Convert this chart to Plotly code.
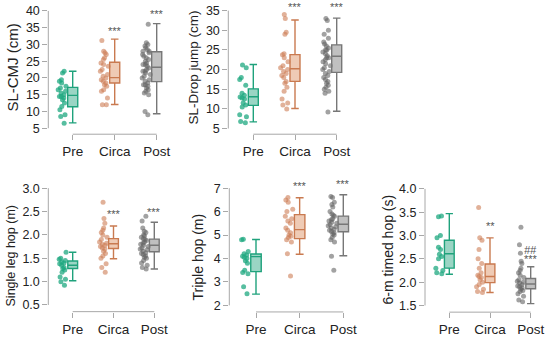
import plotly.graph_objects as go

W, H = 550, 339

categories = ["Pre", "Circa", "Post"]

# ---------- SL-CMJ (cm) ----------
cmj_pre = [22.0, 21.5, 19.5, 19.0, 18.5, 17.5, 17.0, 16.5, 16.0, 15.5, 15.0, 14.5,
           14.5, 14.0, 13.5, 12.5, 11.5, 10.5, 9.0, 8.5, 6.5]
cmj_circa = [31.2, 28.0, 27.5, 27.0, 26.0, 25.5, 24.5, 24.0, 23.5, 22.5, 22.0, 21.0,
             20.5, 20.0, 19.5, 19.0, 18.5, 18.0, 17.5, 16.5, 16.0, 14.0, 12.0, 12.0]
cmj_post = [36.0, 30.5, 30.0, 29.5, 29.0, 28.5, 28.0, 28.0, 27.5, 27.0, 26.5, 26.0,
            25.5, 25.0, 24.5, 24.0, 24.0, 23.5, 23.0, 22.5, 22.0, 22.0, 21.5, 21.0,
            20.5, 20.0, 19.5, 19.0, 18.5, 18.0, 18.0, 17.5, 17.0, 16.5, 16.0, 15.5,
            15.0, 10.0, 9.0]
cmj_q1 = [11.4, 18.5, 18.9]
cmj_med = [14.8, 20.1, 23.2]
cmj_q3 = [17.2, 24.7, 27.8]
cmj_lo = [6.6, 12.1, 9.3]
cmj_hi = [22.0, 31.6, 36.2]
cmj_sig = ["", "***", "***"]
cmj_sig_y = [None, 33.9, 39.1]

# ---------- SL-Drop jump (cm) ----------
drop_pre = [21.2, 20.5, 18.0, 17.5, 16.0, 14.0, 13.5, 13.0, 12.8, 12.5, 11.5, 11.0,
            10.5, 8.5, 8.0, 6.8, 6.5]
drop_circa = [34.0, 33.0, 29.5, 29.0, 24.0, 23.8, 23.0, 22.0, 21.0, 20.5, 20.0, 19.5,
              19.0, 18.5, 18.0, 17.0, 16.5, 15.5, 14.5, 12.5, 11.5, 11.0, 10.0]
drop_post = [33.0, 32.5, 30.0, 29.0, 28.0, 27.0, 26.5, 26.0, 25.5, 25.0, 25.0, 24.5,
             24.0, 23.5, 23.0, 23.0, 22.5, 22.0, 21.5, 21.0, 20.5, 20.0, 19.5, 19.0,
             18.5, 18.0, 17.5, 17.0, 16.5, 16.0, 15.5, 15.0, 14.5, 14.0, 9.2]
drop_q1 = [10.9, 17.0, 19.3]
drop_med = [13.1, 20.2, 23.4]
drop_q3 = [15.1, 23.8, 26.3]
drop_lo = [6.7, 10.1, 9.4]
drop_hi = [21.3, 32.6, 33.1]
drop_sig = ["", "***", "***"]
drop_sig_y = [None, 35.9, 35.9]

# ---------- Single leg hop (m) ----------
slh_pre = [1.63, 1.50, 1.48, 1.45, 1.42, 1.40, 1.38, 1.35, 1.30, 1.28, 1.25, 1.20,
           1.10, 1.05, 1.00, 0.92]
slh_circa = [2.70, 2.35, 2.25, 2.15, 2.10, 2.05, 2.00, 1.95, 1.90, 1.85, 1.82, 1.80,
             1.78, 1.75, 1.72, 1.70, 1.65, 1.60, 1.55, 1.50, 1.38, 1.30, 1.20]
slh_post = [2.40, 2.30, 2.15, 2.08, 2.05, 2.00, 1.98, 1.95, 1.92, 1.90, 1.88, 1.85,
            1.82, 1.80, 1.78, 1.75, 1.72, 1.70, 1.68, 1.65, 1.62, 1.60, 1.58, 1.55,
            1.52, 1.50, 1.45, 1.40, 1.35, 1.30, 1.27]
slh_q1 = [1.28, 1.71, 1.64]
slh_med = [1.35, 1.81, 1.78]
slh_q3 = [1.44, 1.92, 1.91]
slh_lo = [1.02, 1.49, 1.27]
slh_hi = [1.63, 2.19, 2.27]
slh_sig = ["", "***", "***"]
slh_sig_y = [None, 2.45, 2.50]

# ---------- Triple hop (m) ----------
th_pre = [4.82, 4.80, 4.30, 4.20, 4.15, 4.10, 4.05, 4.00, 3.90, 3.80, 3.50, 3.40,
          3.35, 2.80, 2.50]
th_circa = [6.60, 6.50, 6.40, 6.10, 6.00, 5.80, 5.70, 5.60, 5.50, 5.30, 5.20, 5.10,
            5.00, 4.95, 4.90, 4.80, 4.70, 4.20, 3.25]
th_post = [6.65, 6.60, 6.40, 6.30, 6.20, 6.00, 5.90, 5.85, 5.80, 5.70, 5.65, 5.60,
           5.55, 5.50, 5.45, 5.40, 5.35, 5.30, 5.25, 5.20, 5.15, 5.10, 5.05, 5.00,
           4.90, 4.80, 4.70, 4.10, 3.50]
th_q1 = [3.44, 4.85, 5.14]
th_med = [4.08, 5.23, 5.46]
th_q3 = [4.19, 5.87, 5.81]
th_lo = [2.48, 4.18, 4.12]
th_hi = [4.81, 6.59, 6.72]
th_sig = ["", "***", "***"]
th_sig_y = [None, 7.11, 7.18]

# ---------- 6-m timed hop (s) ----------
tim_pre = [3.42, 3.40, 3.00, 2.95, 2.75, 2.70, 2.60, 2.55, 2.50, 2.30, 2.25, 2.20, 2.18]
tim_circa = [3.60, 2.95, 2.90, 2.70, 2.50, 2.40, 2.30, 2.20, 2.15, 2.12, 2.10, 2.05,
             2.00, 1.95, 1.90, 1.85, 1.80, 1.78]
tim_post = [3.18, 2.80, 2.62, 2.45, 2.40, 2.30, 2.25, 2.20, 2.15, 2.10, 2.05, 2.02,
            2.00, 1.98, 1.95, 1.92, 1.90, 1.88, 1.85, 1.82, 1.80, 1.75, 1.70, 1.62, 1.58]
tim_q1 = [2.30, 1.99, 1.86]
tim_med = [2.61, 2.12, 1.96]
tim_q3 = [2.90, 2.39, 2.08]
tim_lo = [2.17, 1.78, 1.54]
tim_hi = [3.47, 2.95, 2.33]
tim_sig = ["", "**", "***"]
tim_sig_y = [None, 3.20, 2.49]
tim_sig2 = ["", "", "<i>##</i>"]
tim_sig2_y = [None, None, 2.70]

line_cols = ["#1fa27c", "#c97a50", "#777777"]
fill_cols = ["rgba(31,162,124,0.45)", "rgba(225,160,120,0.55)", "rgba(140,140,140,0.55)"]
pt_cols = ["rgba(31,168,128,0.75)", "rgba(205,125,85,0.6)", "rgba(100,100,100,0.6)"]

panels = [
    dict(title="SL-CMJ (cm)", tsize=15, pts=[cmj_pre, cmj_circa, cmj_post], q1=cmj_q1,
         med=cmj_med, q3=cmj_q3, lo=cmj_lo, hi=cmj_hi, sig=cmj_sig, sig_y=cmj_sig_y,
         yr=[5, 40], dt=5, fmt="d", ytop=11, ybot=129, xax=48.3,
         cx=[72.7, 115, 156.7], xline=135, tx=13, ty=68),
    dict(title="SL-Drop jump (cm)", tsize=13.5, pts=[drop_pre, drop_circa, drop_post],
         q1=drop_q1, med=drop_med, q3=drop_q3, lo=drop_lo, hi=drop_hi, sig=drop_sig,
         sig_y=drop_sig_y, yr=[5, 35], dt=5, fmt="d", ytop=10.7, ybot=129.3, xax=228.3,
         cx=[253.3, 295, 336.7], xline=135, tx=194, ty=68),
    dict(title="Single leg hop (m)", tsize=12.5, pts=[slh_pre, slh_circa, slh_post],
         q1=slh_q1, med=slh_med, q3=slh_q3, lo=slh_lo, hi=slh_hi, sig=slh_sig,
         sig_y=slh_sig_y, yr=[0.5, 3.0], dt=0.5, fmt=".1f", ytop=189.3, ybot=306.8,
         xax=48.3, cx=[72.7, 113.3, 154.3], xline=313.5, tx=11, ty=258),
    dict(title="Triple hop (m)", tsize=14, pts=[th_pre, th_circa, th_post], q1=th_q1,
         med=th_med, q3=th_q3, lo=th_lo, hi=th_hi, sig=th_sig, sig_y=th_sig_y,
         yr=[2, 7], dt=1, fmt="d", ytop=189.3, ybot=307.2, xax=229.3,
         cx=[256, 300, 343.3], xline=313.8, tx=198, ty=259),
    dict(title="6-m timed hop (s)", tsize=14, pts=[tim_pre, tim_circa, tim_post],
         q1=tim_q1, med=tim_med, q3=tim_q3, lo=tim_lo, hi=tim_hi, sig=tim_sig,
         sig_y=tim_sig_y, yr=[1.5, 4.0], dt=0.5, fmt=".1f", ytop=190, ybot=307.3,
         xax=425, cx=[449.3, 490, 530.7], xline=314, tx=388, ty=251),
]

fig = go.Figure()
layout = dict(width=W, height=H, margin=dict(l=0, r=0, t=0, b=0),
              paper_bgcolor="white", plot_bgcolor="white", showlegend=False,
              boxmode="overlay", font=dict(family="Liberation Sans, Arial", color="#222"))
shapes = []
annotations = []
AX = "#a8a8a8"
BOXW = 0.24
EXT_TOP = 10  # px of headroom above the top tick for the significance marks

for k, p in enumerate(panels):
    n = k + 1
    suf = "" if n == 1 else str(n)
    xa, ya = "x" + suf, "y" + suf
    s = (p["cx"][2] - p["cx"][0]) / 2.0
    r0 = -(p["cx"][0] - p["xax"]) / s
    right_px = p["cx"][2] + 16
    r1 = 2 + (right_px - p["cx"][2]) / s
    kk = (p["ybot"] - p["ytop"]) / (p["yr"][1] - p["yr"][0])
    y_hi = p["yr"][1] + EXT_TOP / kk
    y_lo = p["yr"][0] - (p["xline"] - p["ybot"]) / kk
    nt = int(round((p["yr"][1] - p["yr"][0]) / p["dt"]))
    tv = [p["yr"][0] + j * p["dt"] for j in range(nt + 1)]
    layout["xaxis" + suf] = dict(
        domain=[p["xax"] / W, right_px / W], range=[r0, r1], anchor=ya,
        tickvals=[0, 1, 2], ticktext=categories,
        ticks="outside", ticklen=5, tickcolor=AX, showline=False, showgrid=False,
        zeroline=False, tickfont=dict(size=13.5, color="#222"))
    layout["yaxis" + suf] = dict(
        domain=[1 - p["xline"] / H, 1 - (p["ytop"] - EXT_TOP) / H], range=[y_lo, y_hi],
        anchor=xa, tickvals=tv, tickformat=p["fmt"], ticks="outside",
        ticklen=5, tickcolor=AX, showline=False, showgrid=False, zeroline=False,
        tickfont=dict(size=12.5, color="#222"))
    shapes.append(dict(type="line", xref=xa + " domain", yref=ya, x0=0, x1=0,
                       y0=p["yr"][0], y1=p["yr"][1], line=dict(color=AX, width=1)))
    shapes.append(dict(type="line", xref=xa, yref=ya + " domain", x0=0, x1=2,
                       y0=0, y1=0, line=dict(color=AX, width=1)))
    for i in range(3):
        vals = p["pts"][i]
        fig.add_trace(go.Box(
            x=[i] * len(vals), y=vals, xaxis=xa, yaxis=ya, boxpoints="all",
            jitter=0.9, pointpos=-2.0, width=BOXW, fillcolor="rgba(0,0,0,0)",
            line=dict(width=0, color="rgba(0,0,0,0)"),
            marker=dict(color=pt_cols[i], size=5, line=dict(width=0)),
            hoveron="points"))
        fig.add_trace(go.Box(
            x=[i], q1=[p["q1"][i]], median=[p["med"][i]], q3=[p["q3"][i]],
            lowerfence=[p["lo"][i]], upperfence=[p["hi"][i]], xaxis=xa, yaxis=ya,
            boxpoints=False, width=BOXW, whiskerwidth=0.75, fillcolor=fill_cols[i],
            line=dict(color=line_cols[i], width=1.4)))
        if p["sig"][i]:
            annotations.append(dict(x=i, y=p["sig_y"][i], xref=xa, yref=ya,
                                    text=p["sig"][i], showarrow=False,
                                    font=dict(size=11, color="#555"), yanchor="middle"))
    annotations.append(dict(x=p["tx"] / W, y=1 - p["ty"] / H, xref="paper", yref="paper",
                            text=p["title"], textangle=-90, showarrow=False,
                            font=dict(size=p["tsize"], color="#222"),
                            xanchor="center", yanchor="middle"))

for i in range(3):
    if tim_sig2[i]:
        annotations.append(dict(x=i, y=tim_sig2_y[i], xref="x5", yref="y5",
                                text=tim_sig2[i], showarrow=False,
                                font=dict(size=11, color="#555"), yanchor="middle"))

layout["shapes"] = shapes
layout["annotations"] = annotations
fig.update_layout(**layout)
fig.write_html("out.html", config={"displayModeBar": False},
               post_script="document.body.style.margin='0px';")
